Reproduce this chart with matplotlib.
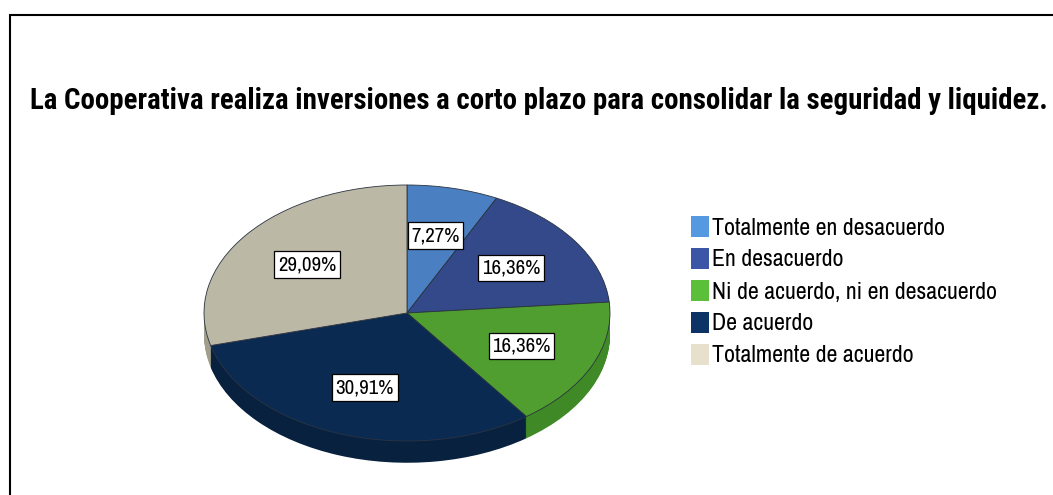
import matplotlib.pyplot as plt
from matplotlib.patches import Rectangle
from matplotlib import font_manager

# answers out of 55 people
categories = ['Totalmente en desacuerdo', 'En desacuerdo',
              'Ni de acuerdo, ni en desacuerdo', 'De acuerdo',
              'Totalmente de acuerdo']
counts = [4, 9, 9, 17, 16]

top_colors = ['#4a7fc1', '#34498a', '#4f9e2f', '#0b2a52', '#bcb8a6']
side_colors = ['#2f5a92', '#24366a', '#3f8a26', '#08213f', '#a29e8e']
legend_colors = ['#5599e0', '#3b56a6', '#5cbf3a', '#0d3266', '#e6e0cc']

title = 'La Cooperativa realiza inversiones a corto plazo para consolidar la seguridad y liquidez.'

names = {f.name for f in font_manager.fontManager.ttflist}
narrow = next(n for n in ['Liberation Sans Narrow', 'Archivo Narrow', 'Roboto Condensed', 'DejaVu Sans']
              if n in names)
title_font = 'Roboto Condensed' if 'Roboto Condensed' in names else narrow
plt.rcParams['font.family'] = [narrow, 'DejaVu Sans']

W, H = 1053, 495
fig = plt.figure(figsize=(W / 100, H / 100), dpi=100)

# outer frame (cut off at right and bottom)
fig.patches.append(Rectangle((10 / W, -0.1), 1.5, 1 - 15 / H + 0.1,
                             transform=fig.transFigure, fill=False,
                             ec='black', lw=1.5))

fig.text(30 / W, 1 - 101 / H, title, ha='left', va='center',
         fontsize=20.8, fontweight='bold', family=[title_font, 'DejaVu Sans'])

# pie axes: radius 1 -> 203 px wide, 128 px tall
rx, ry = 203, 128
cx, cy = 407, 313
x0, x1, y0, y1 = -1.1, 1.1, -1.4, 1.1
ax = fig.add_axes([(cx + x0 * rx) / W, 1 - (cy - y0 * ry) / H,
                   (x1 - x0) * rx / W, (y1 - y0) * ry / H])

depth = 0.17
steps = 24
for k in range(steps, 0, -1):
    ax.pie(counts, colors=side_colors, startangle=90, counterclock=False,
           center=(0, -depth * k / steps), wedgeprops=dict(lw=0))

wedges, texts, autotexts = ax.pie(
    counts, colors=top_colors, startangle=90, counterclock=False,
    autopct=lambda p: f'{p:.2f}%'.replace('.', ','), pctdistance=0.62,
    wedgeprops=dict(lw=0.6, ec='#2b3440'),
    textprops=dict(fontsize=15, color='black'))
for t in autotexts:
    t.set_bbox(dict(boxstyle='square,pad=0.18', fc='white', ec='black', lw=0.9))

ax.set_aspect('auto')
ax.set_xlim(x0, x1)
ax.set_ylim(y0, y1)
ax.axis('off')

# legend
for i, (lab, col) in enumerate(zip(categories, legend_colors)):
    yc = 228 + 32 * i
    fig.patches.append(Rectangle((691 / W, 1 - (yc + 9) / H), 18 / W, 21 / H,
                                 transform=fig.transFigure, fc=col, ec='none'))
    fig.text(712 / W, 1 - yc / H, lab, ha='left', va='center', fontsize=17.2)

fig.savefig('out.png', dpi=100)
